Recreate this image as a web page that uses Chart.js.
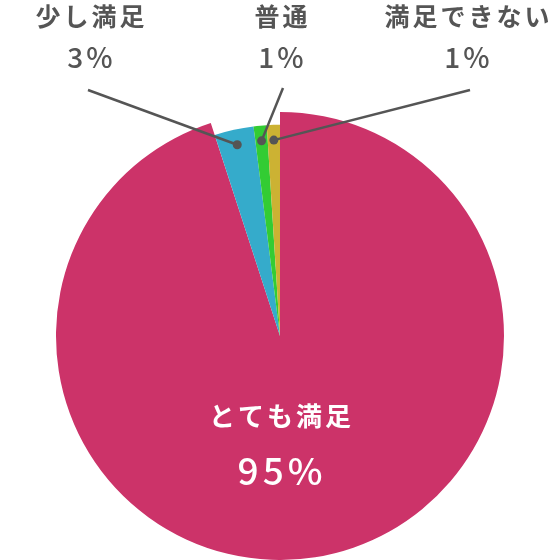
<!DOCTYPE html>
<html>
<head>
<meta charset="utf-8">
<script src="https://cdn.jsdelivr.net/npm/chart.js@4"></script>
<style>
  html, body { margin: 0; padding: 0; background: #fff; }
  #wrap { width: 560px; height: 560px; }
</style>
</head>
<body>
<div id="wrap"><canvas id="satisfactionPie" width="560" height="560"></canvas></div>
<script>
// --- DATA ---
const categories = ['とても満足', '少し満足', '普通', '満足できない'];
const shares = [95, 3, 1, 1];
const sliceColors = ['#CC3369', '#35ABCB', '#33CC33', '#CCB233'];

const FONT = '"Noto Sans CJK JP", "Noto Sans", sans-serif';
const TEXT_GRAY = '#555555';

// where each small slice's caption sits, and where its leader line starts
const outerLabels = {
    1: { x: 90, lineFrom: [88, 90] },
    2: { x: 281, lineFrom: [283, 88] },
    3: { x: 467, lineFrom: [470, 90] }
};

new Chart(document.getElementById('satisfactionPie').getContext('2d'), {
    type: 'pie',
    data: {
        labels: categories,
        datasets: [{
            data: shares,
            backgroundColor: sliceColors,
            borderWidth: 0
        }]
    },
    options: {
        responsive: false,
        animation: false,
        layout: { padding: { top: 112, left: 0, right: 0, bottom: 0 } },
        plugins: {
            legend: { display: false },
            tooltip: { enabled: false }
        }
    },
    plugins: [{
        id: 'satisfactionLabels',
        beforeDatasetsDraw: (chart) => {
            // the small slices are drawn a bit shorter than the main one
            chart.getDatasetMeta(0).data.forEach((arc, i) => {
                if (i > 0) arc.outerRadius = arc.outerRadius * 0.943;
            });
        },
        afterDatasetsDraw: (chart) => {
            const { ctx } = chart;
            const arcs = chart.getDatasetMeta(0).data;
            const full = arcs[0].outerRadius;
            ctx.save();

            // leader lines + dots
            ctx.strokeStyle = TEXT_GRAY;
            ctx.fillStyle = TEXT_GRAY;
            ctx.lineWidth = 2.5;
            Object.keys(outerLabels).forEach((k) => {
                const arc = arcs[k];
                const mid = (arc.startAngle + arc.endAngle) / 2;
                const r = full * 0.875;
                const px = arc.x + Math.cos(mid) * r;
                const py = arc.y + Math.sin(mid) * r;
                const [sx, sy] = outerLabels[k].lineFrom;
                ctx.beginPath();
                ctx.moveTo(sx, sy);
                ctx.lineTo(px, py);
                ctx.stroke();
                ctx.beginPath();
                ctx.arc(px, py, 4.5, 0, Math.PI * 2);
                ctx.fill();
            });

            // captions above the pie
            ctx.textAlign = 'center';
            ctx.textBaseline = 'middle';
            ctx.letterSpacing = '3px';
            Object.keys(outerLabels).forEach((k) => {
                const x = outerLabels[k].x;
                ctx.font = `bold 25px ${FONT}`;
                ctx.fillText(categories[k], x + 1.5, 16);
                ctx.font = `500 28px ${FONT}`;
                ctx.fillText(shares[k] + '%', x + 1.5, 57);
            });

            // label inside the big slice
            const big = arcs[0];
            ctx.fillStyle = '#FFFFFF';
            ctx.font = `bold 26px ${FONT}`;
            ctx.fillText(categories[0], big.x + 1.5, 416);
            ctx.letterSpacing = '4px';
            ctx.font = `500 37px ${FONT}`;
            ctx.fillText(shares[0] + '%', big.x + 2, 471);

            ctx.restore();
        }
    }]
});
</script>
</body>
</html>
